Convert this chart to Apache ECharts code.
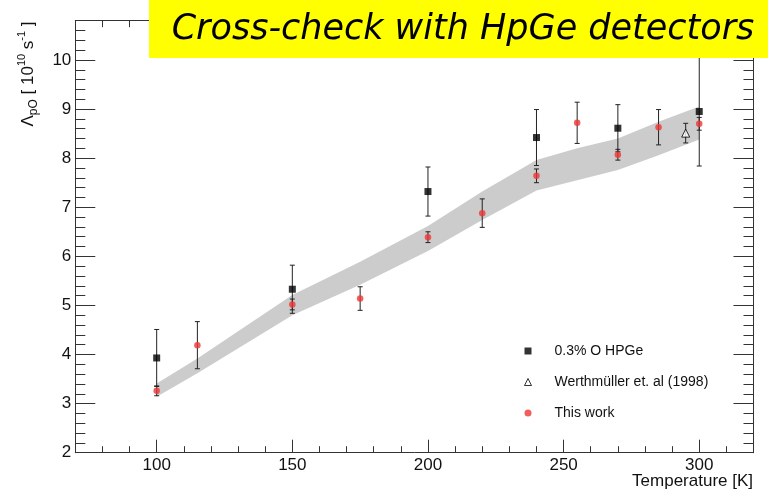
<!DOCTYPE html>
<html>
<head>
<meta charset="utf-8">
<script src="https://cdn.jsdelivr.net/npm/echarts@6/dist/echarts.min.js"></script>
<style>
html,body{margin:0;padding:0;background:#fff;}
#chart{width:768px;height:489px;}
</style>
</head>
<body>
<div id="chart"></div>
<script>
// ---- data ----
const titleText = 'Cross-check with HpGe detectors';
const yTitle = 'Λ{sub|pO} [ 10{sup|10} s{sup|-1} ]';
const xTitle = 'Temperature [K]';

const xMajor = [100, 150, 200, 250, 300];
const yMajor = [2, 3, 4, 5, 6, 7, 8, 9, 10];

// grey band (lower / upper edge)
const bandT    = [100, 115, 150, 175, 200, 220, 240, 255, 270, 285, 300];
const bandLow  = [3.14, 3.62, 4.80, 5.42, 6.11, 6.74, 7.34, 7.55, 7.76, 8.06, 8.38];
const bandHigh = [3.41, 3.92, 5.21, 5.89, 6.62, 7.32, 7.96, 8.20, 8.40, 8.74, 9.05];

// 0.3% O HPGe
const hpgeT   = [100, 150, 200, 240, 270, 300];
const hpgeV   = [3.93, 5.33, 7.32, 8.42, 8.61, 8.95];
const hpgeErr = [0.58, 0.49, 0.50, 0.57, 0.48, 1.11];

// Werthmüller et. al (1998)
const werT   = [295];
const werV   = [8.51];
const werErr = [0.20];

// This work
const workT   = [100, 115, 150, 175, 200, 220, 240, 255, 270, 285, 300];
const workV   = [3.26, 4.19, 5.02, 5.14, 6.39, 6.88, 7.64, 8.72, 8.07, 8.63, 8.70];
const workErr = [0.10, 0.48, 0.11, 0.24, 0.11, 0.29, 0.14, 0.42, 0.11, 0.36, 0.13];

const names = ['0.3% O HPGe', 'Werthmüller et. al (1998)', 'This work'];

// ---- chart ----
const FONT = 'Liberation Sans, Arial, sans-serif';
const lineCol = '#333';

function errData(T, V, E) { return T.map((t, i) => [t, V[i] - E[i], V[i] + E[i]]); }
function pts(T, V) { return T.map((t, i) => [t, V[i]]); }

function errRender(params, api) {
  const x = api.value(0);
  const lo = api.coord([x, api.value(1)]);
  const hi = api.coord([x, api.value(2)]);
  const c = 2.5;
  const st = { stroke: '#222', lineWidth: 1, fill: null };
  return {
    type: 'group',
    children: [
      { type: 'line', shape: { x1: lo[0], y1: lo[1], x2: hi[0], y2: hi[1] }, style: st },
      { type: 'line', shape: { x1: lo[0] - c, y1: lo[1], x2: lo[0] + c, y2: lo[1] }, style: st },
      { type: 'line', shape: { x1: hi[0] - c, y1: hi[1], x2: hi[0] + c, y2: hi[1] }, style: st }
    ]
  };
}

function bandRender(params, api) {
  if (params.dataIndex !== 0) return null;
  const lower = bandT.map((t, i) => api.coord([t, bandLow[i]]));
  const upper = bandT.map((t, i) => api.coord([t, bandHigh[i]])).reverse();
  return { type: 'polygon', shape: { points: lower.concat(upper) }, style: { fill: '#cccccc', stroke: null } };
}

function xAx(pos, major, labels) {
  return {
    type: 'value', position: pos, min: 70, max: 320,
    interval: major ? undefined : 10,
    axisLine: { show: !major, onZero: false, lineStyle: { color: lineCol, width: 1 } },
    axisTick: major
      ? { show: true, inside: true, length: 13, customValues: xMajor, lineStyle: { color: lineCol } }
      : { show: true, inside: true, length: 6.5, lineStyle: { color: lineCol } },
    axisLabel: labels
      ? { show: true, customValues: xMajor, margin: 4, color: '#111', fontSize: 17, fontFamily: FONT }
      : { show: false },
    splitLine: { show: false }
  };
}
function yAx(pos, major, labels) {
  return {
    type: 'value', position: pos, min: 2, max: 10.8,
    interval: major ? undefined : 0.2,
    axisLine: { show: !major, onZero: false, lineStyle: { color: lineCol, width: 1 } },
    axisTick: major
      ? { show: true, inside: true, length: 20, customValues: yMajor, lineStyle: { color: lineCol } }
      : { show: true, inside: true, length: 10, lineStyle: { color: lineCol } },
    axisLabel: labels
      ? { show: true, customValues: yMajor, margin: 4, color: '#111', fontSize: 17, fontFamily: FONT }
      : { show: false },
    splitLine: { show: false }
  };
}

const chart = echarts.init(document.getElementById('chart'), null, { renderer: 'canvas' });
chart.setOption({
  animation: false,
  backgroundColor: '#ffffff',
  grid: { left: 75.3, right: 14.5, top: 20.7, bottom: 36.3, containLabel: false },
  xAxis: [xAx('bottom', false, true), xAx('bottom', true, false), xAx('top', false, false), xAx('top', true, false)],
  yAxis: [yAx('left', false, true), yAx('left', true, false), yAx('right', false, false), yAx('right', true, false)],
  legend: {
    orient: 'vertical', left: 524, top: 344, padding: 0,
    itemWidth: 7, itemHeight: 7, itemGap: 17,
    textStyle: { fontSize: 14, fontFamily: FONT, color: '#111', padding: [0, 0, 0, 18] },
    data: [
      { name: names[0], icon: 'rect' },
      { name: names[1], icon: 'triangle', itemStyle: { color: '#fff', borderColor: '#000', borderWidth: 1 } },
      { name: names[2], icon: 'circle' }
    ]
  },
  series: [
    {
      type: 'custom', name: 'band', renderItem: bandRender, silent: true, z: 1,
      data: bandT.map((t, i) => [t, bandLow[i], bandHigh[i]]), encode: { x: 0, y: [1, 2] }
    },
    { type: 'custom', name: 'errHpge', renderItem: errRender, data: errData(hpgeT, hpgeV, hpgeErr), z: 3, encode: { x: 0, y: [1, 2] } },
    { type: 'custom', name: 'errWer', renderItem: errRender, data: errData(werT, werV, werErr), z: 3, encode: { x: 0, y: [1, 2] } },
    { type: 'custom', name: 'errWork', renderItem: errRender, data: errData(workT, workV, workErr), z: 3, encode: { x: 0, y: [1, 2] } },
    {
      type: 'scatter', name: names[0], data: pts(hpgeT, hpgeV), symbol: 'rect', symbolSize: 7,
      itemStyle: { color: '#000' }, z: 4
    },
    {
      type: 'scatter', name: names[1], data: pts(werT, werV), symbol: 'triangle', symbolSize: 8,
      itemStyle: { color: '#fff', borderColor: '#000', borderWidth: 1 }, z: 4
    },
    {
      type: 'scatter', name: names[2], data: pts(workT, workV), symbol: 'circle', symbolSize: 6.5,
      itemStyle: { color: '#ee3636' }, z: 5
    }
  ],
  graphic: [
    { type: 'rect', left: 149, top: 0, shape: { width: 619, height: 58 }, style: { fill: '#ffff00' }, z: 100 },
    {
      type: 'text', x: 463, y: 30, z: 101,
      style: { text: titleText, fill: '#000', font: 'italic 35px "DejaVu Sans"', align: 'center', verticalAlign: 'middle' }
    },
    {
      type: 'text', x: 28, y: 74, rotation: Math.PI / 2, z: 101,
      style: {
        text: yTitle, fill: '#111', fontSize: 17, fontFamily: FONT, align: 'center', verticalAlign: 'middle',
        lineHeight: 24,
        rich: {
          sub: { fontSize: 12, fontFamily: FONT, lineHeight: 12, verticalAlign: 'bottom', fill: '#111' },
          sup: { fontSize: 11, fontFamily: FONT, lineHeight: 12, verticalAlign: 'top', fill: '#111' }
        }
      }
    },
    {
      type: 'text', x: 753, y: 481, z: 101,
      style: { text: xTitle, fill: '#111', fontSize: 17, fontFamily: FONT, align: 'right', verticalAlign: 'middle' }
    }
  ]
});
</script>
</body>
</html>
